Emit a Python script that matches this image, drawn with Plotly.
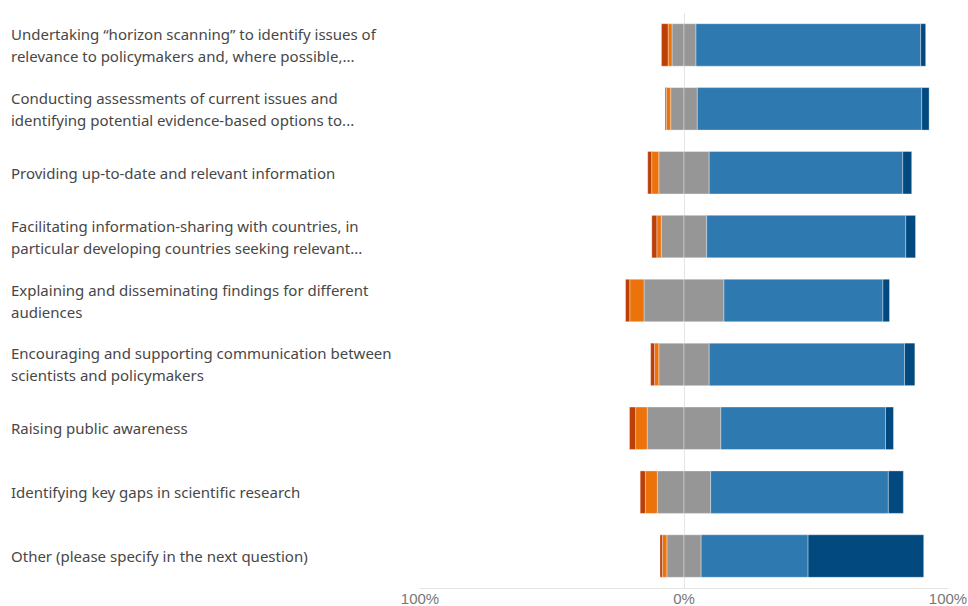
import plotly.graph_objects as go

# Survey items (top to bottom)
categories = [
    "Undertaking “horizon scanning” to identify issues of<br>relevance to policymakers and, where possible,...",
    "Conducting assessments of current issues and<br>identifying potential evidence-based options to...",
    "Providing up-to-date and relevant information",
    "Facilitating information-sharing with countries, in<br>particular developing countries seeking relevant...",
    "Explaining and disseminating findings for different<br>audiences",
    "Encouraging and supporting communication between<br>scientists and policymakers",
    "Raising public awareness",
    "Identifying key gaps in scientific research",
    "Other (please specify in the next question)",
]

# Share of responses (%) per rating level
strongly_disagree = [2.5, 0.5, 1.5, 1.9, 1.6, 1.5, 2.3, 2.0, 0.9]
disagree = [1.5, 1.6, 2.7, 1.7, 5.4, 1.6, 4.4, 4.5, 1.7]
neutral = [9.1, 10.1, 19.1, 17.2, 30.3, 19.1, 27.9, 20.2, 13.0]
agree = [85.1, 85.0, 73.3, 75.4, 60.2, 74.0, 62.4, 67.3, 40.5]
strongly_agree = [1.9, 2.8, 3.4, 3.7, 2.5, 3.9, 3.0, 5.7, 43.8]

tick_vals = [-100, 0, 100]
tick_text = ["100%", "0%", "100%"]

C_SD = "#BC3F0A"
C_D = "#EC730B"
C_N = "#969696"
C_A = "#2D79B0"
C_SA = "#02497F"

y_idx = list(range(len(categories)))
edge = dict(color="rgba(255,255,255,0.5)", width=0.7)


def add(name, values, color, sign=1, half=False):
    vals = [sign * (v / 2 if half else v) for v in values]
    fig.add_trace(go.Bar(
        y=y_idx, x=vals, orientation="h", name=name,
        marker=dict(color=color, line=edge),
        hovertemplate=name + ": %{customdata:.1f}%<extra></extra>",
        customdata=values,
    ))


fig = go.Figure()
# neutral is split evenly across zero
add("Neutral", neutral, C_N, -1, half=True)
add("Neutral", neutral, C_N, 1, half=True)
add("Disagree", disagree, C_D, -1)
add("Agree", agree, C_A, 1)
add("Strongly disagree", strongly_disagree, C_SD, -1)
add("Strongly agree", strongly_agree, C_SA, 1)

# category labels, left aligned, one annotation per text line
label_font = dict(family="Segoe UI, Noto Sans, Open Sans, sans-serif", size=15, color="#474747")
line_step = 22
for i, cat in enumerate(categories):
    lines = cat.split("<br>")
    n = len(lines)
    for k, line in enumerate(lines):
        fig.add_annotation(
            x=-411 / 528, xref="paper", y=i, yref="y",
            text=line, showarrow=False, xanchor="left", yanchor="middle",
            align="left", font=label_font,
            yshift=((n - 1) / 2 - k) * line_step,
        )

fig.update_layout(
    width=968, height=606,
    margin=dict(l=420, r=20, t=13, b=18),
    barmode="relative", bargap=0.335,
    showlegend=False,
    plot_bgcolor="white", paper_bgcolor="white",
    xaxis=dict(
        range=[-100, 100], tickvals=tick_vals, ticktext=tick_text,
        showgrid=True, gridcolor="#e4e4e4", gridwidth=1,
        zeroline=False, showline=True, linecolor="#e4e4e4", linewidth=1,
        tickfont=dict(family="Liberation Sans, Arial, sans-serif", size=15, color="#777777"),
        ticks="", ticklabelstandoff=-3, fixedrange=True, automargin=False,
    ),
    yaxis=dict(
        range=[len(categories) - 0.5, -0.5], showticklabels=False,
        showgrid=False, zeroline=False, showline=False, fixedrange=True,
        automargin=False,
    ),
)

fig.write_html("out.html")
